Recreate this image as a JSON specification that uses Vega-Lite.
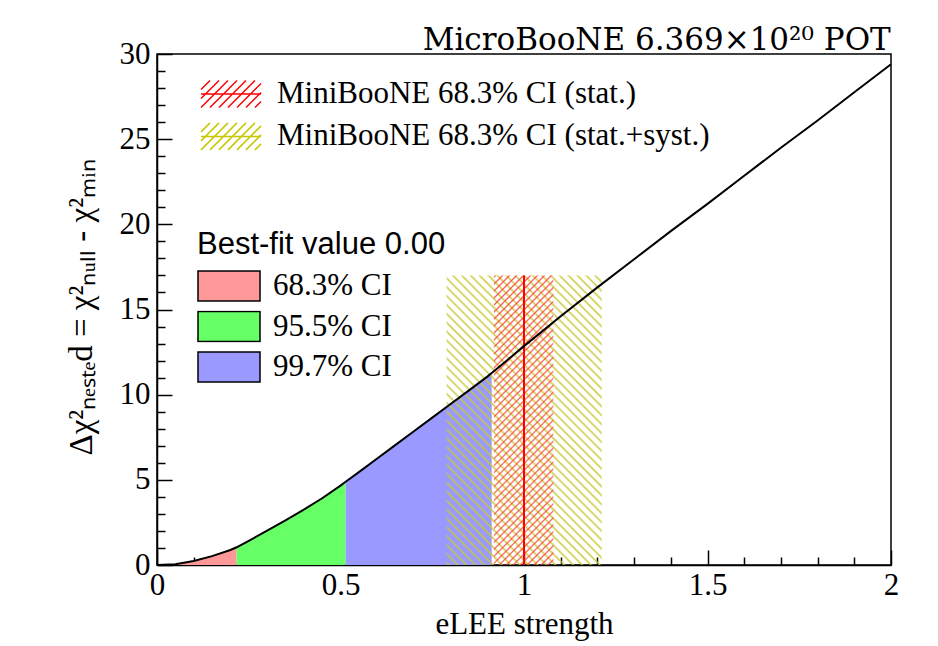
{
  "$schema": "https://vega.github.io/schema/vega-lite/v6.json",
  "width": 734,
  "height": 511,
  "autosize": {"type": "none"},
  "padding": {"left": 157, "top": 54, "right": 47, "bottom": 81},
  "background": "white",
  "config": {
    "view": {"stroke": "black", "strokeWidth": 1.5},
    "axis": {
      "grid": false,
      "zindex": 1,
      "labelOverlap": false,
      "labelBound": false,
      "domainColor": "black",
      "domainWidth": 1.5,
      "tickColor": "black",
      "tickWidth": 1.5,
      "labelFont": "Liberation Serif",
      "labelFontSize": 31,
      "labelColor": "black",
      "titleFont": "Liberation Serif",
      "titleFontSize": 31,
      "titleFontWeight": "normal",
      "titleColor": "black"
    }
  },
  "title": {
    "text": "MicroBooNE 6.369×10²⁰ POT",
    "anchor": "end",
    "orient": "top",
    "font": "DejaVu Serif",
    "fontSize": 31,
    "fontWeight": "normal",
    "color": "black",
    "offset": 7,
    "dx": -8,
    "dy": 50,
    "baseline": "alphabetic"
  },
  "resolve": {"axis": {"x": "independent", "y": "independent"}},
  "datasets": {
    "curve": [
      {"s": 0, "dchi2": 0}, {"s": 0.05, "dchi2": 0.05}, {"s": 0.1, "dchi2": 0.24}, {"s": 0.15, "dchi2": 0.52},
      {"s": 0.2, "dchi2": 0.88}, {"s": 0.217, "dchi2": 1.04}, {"s": 0.25, "dchi2": 1.42}, {"s": 0.3, "dchi2": 2.02},
      {"s": 0.35, "dchi2": 2.62}, {"s": 0.4, "dchi2": 3.25}, {"s": 0.45, "dchi2": 3.92}, {"s": 0.5, "dchi2": 4.66},
      {"s": 0.514, "dchi2": 4.89}, {"s": 0.55, "dchi2": 5.45}, {"s": 0.6, "dchi2": 6.25}, {"s": 0.65, "dchi2": 7.05},
      {"s": 0.7, "dchi2": 7.85}, {"s": 0.75, "dchi2": 8.65}, {"s": 0.8, "dchi2": 9.45}, {"s": 0.85, "dchi2": 10.25},
      {"s": 0.9, "dchi2": 11.06}, {"s": 0.912, "dchi2": 11.27}, {"s": 0.95, "dchi2": 11.95}, {"s": 1.0, "dchi2": 12.85},
      {"s": 1.1, "dchi2": 14.6}, {"s": 1.2, "dchi2": 16.3}, {"s": 1.3, "dchi2": 17.95}, {"s": 1.4, "dchi2": 19.6},
      {"s": 1.5, "dchi2": 21.2}, {"s": 1.6, "dchi2": 22.85}, {"s": 1.7, "dchi2": 24.5}, {"s": 1.8, "dchi2": 26.1},
      {"s": 1.9, "dchi2": 27.75}, {"s": 2.0, "dchi2": 29.4}
    ],
    "regions": [
      {"s": 0, "dchi2": 0, "ci": "68.3% CI"}, {"s": 0.05, "dchi2": 0.05, "ci": "68.3% CI"}, {"s": 0.1, "dchi2": 0.24, "ci": "68.3% CI"},
      {"s": 0.15, "dchi2": 0.52, "ci": "68.3% CI"}, {"s": 0.2, "dchi2": 0.88, "ci": "68.3% CI"}, {"s": 0.217, "dchi2": 1.04, "ci": "68.3% CI"},
      {"s": 0.217, "dchi2": 1.04, "ci": "95.5% CI"}, {"s": 0.25, "dchi2": 1.42, "ci": "95.5% CI"}, {"s": 0.3, "dchi2": 2.02, "ci": "95.5% CI"},
      {"s": 0.35, "dchi2": 2.62, "ci": "95.5% CI"}, {"s": 0.4, "dchi2": 3.25, "ci": "95.5% CI"}, {"s": 0.45, "dchi2": 3.92, "ci": "95.5% CI"},
      {"s": 0.5, "dchi2": 4.66, "ci": "95.5% CI"}, {"s": 0.514, "dchi2": 4.89, "ci": "95.5% CI"},
      {"s": 0.514, "dchi2": 4.89, "ci": "99.7% CI"}, {"s": 0.55, "dchi2": 5.45, "ci": "99.7% CI"}, {"s": 0.6, "dchi2": 6.25, "ci": "99.7% CI"},
      {"s": 0.65, "dchi2": 7.05, "ci": "99.7% CI"}, {"s": 0.7, "dchi2": 7.85, "ci": "99.7% CI"}, {"s": 0.75, "dchi2": 8.65, "ci": "99.7% CI"},
      {"s": 0.8, "dchi2": 9.45, "ci": "99.7% CI"}, {"s": 0.85, "dchi2": 10.25, "ci": "99.7% CI"}, {"s": 0.9, "dchi2": 11.06, "ci": "99.7% CI"},
      {"s": 0.912, "dchi2": 11.27, "ci": "99.7% CI"}
    ],
    "bands": [
      {"band": "stat.+syst.", "lo": 0.789, "hi": 1.212, "ymin": 0, "ymax": 17},
      {"band": "stat.", "lo": 0.918, "hi": 1.08, "ymin": 0, "ymax": 17}
    ],
    "central": [
      {"label": "MiniBooNE 68.3% CI (stat.)", "value": 1, "ymin": 0, "ymax": 17}
    ]
  },
  "layer": [
    {
      "data": {"name": "regions"},
      "mark": {"type": "area", "interpolate": "linear"},
      "encoding": {
        "x": {
          "field": "s", "type": "quantitative",
          "scale": {"domain": [0, 2], "nice": false, "zero": false},
          "axis": {
            "orient": "bottom",
            "title": "eLEE strength",
            "values": [0, 0.5, 1, 1.5, 2],
            "format": "~g",
            "tickSize": -15,
            "labelPadding": 20,
            "labelOverlap": false,
            "labelFlush": false,
            "titleY": 44,
            "titleBaseline": "top"
          }
        },
        "y": {
          "field": "dchi2", "type": "quantitative",
          "stack": null,
          "scale": {"domain": [0, 30], "nice": false},
          "axis": {
            "orient": "left",
            "title": "Δχ²ₙₑₛₜₑd = χ²ₙᵤₗₗ - χ²ₘᵢₙ",
            "titleFontSize": 33,
            "values": [0, 5, 10, 15, 20, 25, 30],
            "format": "d",
            "tickSize": -15,
            "labelPadding": 22,
            "labelOverlap": false,
            "labelFlush": false,
            "titleX": -76,
            "titleY": 253,
            "titleAngle": 270,
            "titleAlign": "center",
            "titleBaseline": "middle"
          }
        },
        "fill": {
          "field": "ci", "type": "nominal",
          "scale": {"domain": ["68.3% CI", "95.5% CI", "99.7% CI"], "range": ["#ff9999", "#66ff66", "#9999ff"]},
          "legend": {
            "title": "Best-fit value 0.00",
            "orient": "none",
            "legendX": 40,
            "legendY": 176,
            "padding": 0,
            "titleFont": "Liberation Sans",
            "titleFontSize": 31,
            "titleFontWeight": "normal",
            "titleColor": "black",
            "titlePadding": 9,
            "titleLimit": 600,
            "symbolType": "M-1,-0.48H1V0.48H-1Z",
            "symbolSize": 3844,
            "symbolStrokeColor": "black",
            "symbolStrokeWidth": 1.5,
            "symbolOpacity": 1,
            "labelFont": "Liberation Serif",
            "labelFontSize": 31,
            "labelColor": "black",
            "labelOffset": 12,
            "labelLimit": 400,
            "clipHeight": 32,
            "rowPadding": 8.5
          }
        }
      }
    },
    {
      "data": {"name": "bands"},
      "transform": [{"filter": "datum.band === 'stat.+syst.'"}],
      "mark": {
        "type": "rect",
        "fill": {
          "gradient": "linear", "x1": 0, "y1": 1, "x2": 0.64, "y2": -0.193,
          "stops": [
            {"offset": 0, "color": "rgba(200,200,50,0)"}, {"offset": 0.005, "color": "rgba(200,200,50,0.9)"}, {"offset": 0.01, "color": "rgba(200,200,50,0)"},
            {"offset": 0.02, "color": "rgba(200,200,50,0)"}, {"offset": 0.025, "color": "rgba(200,200,50,0.9)"}, {"offset": 0.03, "color": "rgba(200,200,50,0)"},
            {"offset": 0.04, "color": "rgba(200,200,50,0)"}, {"offset": 0.045, "color": "rgba(200,200,50,0.9)"}, {"offset": 0.05, "color": "rgba(200,200,50,0)"},
            {"offset": 0.06, "color": "rgba(200,200,50,0)"}, {"offset": 0.065, "color": "rgba(200,200,50,0.9)"}, {"offset": 0.07, "color": "rgba(200,200,50,0)"},
            {"offset": 0.08, "color": "rgba(200,200,50,0)"}, {"offset": 0.085, "color": "rgba(200,200,50,0.9)"}, {"offset": 0.09, "color": "rgba(200,200,50,0)"},
            {"offset": 0.1, "color": "rgba(200,200,50,0)"}, {"offset": 0.105, "color": "rgba(200,200,50,0.9)"}, {"offset": 0.11, "color": "rgba(200,200,50,0)"},
            {"offset": 0.12, "color": "rgba(200,200,50,0)"}, {"offset": 0.125, "color": "rgba(200,200,50,0.9)"}, {"offset": 0.13, "color": "rgba(200,200,50,0)"},
            {"offset": 0.14, "color": "rgba(200,200,50,0)"}, {"offset": 0.145, "color": "rgba(200,200,50,0.9)"}, {"offset": 0.15, "color": "rgba(200,200,50,0)"},
            {"offset": 0.16, "color": "rgba(200,200,50,0)"}, {"offset": 0.165, "color": "rgba(200,200,50,0.9)"}, {"offset": 0.17, "color": "rgba(200,200,50,0)"},
            {"offset": 0.18, "color": "rgba(200,200,50,0)"}, {"offset": 0.185, "color": "rgba(200,200,50,0.9)"}, {"offset": 0.19, "color": "rgba(200,200,50,0)"},
            {"offset": 0.2, "color": "rgba(200,200,50,0)"}, {"offset": 0.205, "color": "rgba(200,200,50,0.9)"}, {"offset": 0.21, "color": "rgba(200,200,50,0)"},
            {"offset": 0.22, "color": "rgba(200,200,50,0)"}, {"offset": 0.225, "color": "rgba(200,200,50,0.9)"}, {"offset": 0.23, "color": "rgba(200,200,50,0)"},
            {"offset": 0.24, "color": "rgba(200,200,50,0)"}, {"offset": 0.245, "color": "rgba(200,200,50,0.9)"}, {"offset": 0.25, "color": "rgba(200,200,50,0)"},
            {"offset": 0.26, "color": "rgba(200,200,50,0)"}, {"offset": 0.265, "color": "rgba(200,200,50,0.9)"}, {"offset": 0.27, "color": "rgba(200,200,50,0)"},
            {"offset": 0.28, "color": "rgba(200,200,50,0)"}, {"offset": 0.285, "color": "rgba(200,200,50,0.9)"}, {"offset": 0.29, "color": "rgba(200,200,50,0)"},
            {"offset": 0.3, "color": "rgba(200,200,50,0)"}, {"offset": 0.305, "color": "rgba(200,200,50,0.9)"}, {"offset": 0.31, "color": "rgba(200,200,50,0)"},
            {"offset": 0.32, "color": "rgba(200,200,50,0)"}, {"offset": 0.325, "color": "rgba(200,200,50,0.9)"}, {"offset": 0.33, "color": "rgba(200,200,50,0)"},
            {"offset": 0.34, "color": "rgba(200,200,50,0)"}, {"offset": 0.345, "color": "rgba(200,200,50,0.9)"}, {"offset": 0.35, "color": "rgba(200,200,50,0)"},
            {"offset": 0.36, "color": "rgba(200,200,50,0)"}, {"offset": 0.365, "color": "rgba(200,200,50,0.9)"}, {"offset": 0.37, "color": "rgba(200,200,50,0)"},
            {"offset": 0.38, "color": "rgba(200,200,50,0)"}, {"offset": 0.385, "color": "rgba(200,200,50,0.9)"}, {"offset": 0.39, "color": "rgba(200,200,50,0)"},
            {"offset": 0.4, "color": "rgba(200,200,50,0)"}, {"offset": 0.405, "color": "rgba(200,200,50,0.9)"}, {"offset": 0.41, "color": "rgba(200,200,50,0)"},
            {"offset": 0.42, "color": "rgba(200,200,50,0)"}, {"offset": 0.425, "color": "rgba(200,200,50,0.9)"}, {"offset": 0.43, "color": "rgba(200,200,50,0)"},
            {"offset": 0.44, "color": "rgba(200,200,50,0)"}, {"offset": 0.445, "color": "rgba(200,200,50,0.9)"}, {"offset": 0.45, "color": "rgba(200,200,50,0)"},
            {"offset": 0.46, "color": "rgba(200,200,50,0)"}, {"offset": 0.465, "color": "rgba(200,200,50,0.9)"}, {"offset": 0.47, "color": "rgba(200,200,50,0)"},
            {"offset": 0.48, "color": "rgba(200,200,50,0)"}, {"offset": 0.485, "color": "rgba(200,200,50,0.9)"}, {"offset": 0.49, "color": "rgba(200,200,50,0)"},
            {"offset": 0.5, "color": "rgba(200,200,50,0)"}, {"offset": 0.505, "color": "rgba(200,200,50,0.9)"}, {"offset": 0.51, "color": "rgba(200,200,50,0)"},
            {"offset": 0.52, "color": "rgba(200,200,50,0)"}, {"offset": 0.525, "color": "rgba(200,200,50,0.9)"}, {"offset": 0.53, "color": "rgba(200,200,50,0)"},
            {"offset": 0.54, "color": "rgba(200,200,50,0)"}, {"offset": 0.545, "color": "rgba(200,200,50,0.9)"}, {"offset": 0.55, "color": "rgba(200,200,50,0)"},
            {"offset": 0.56, "color": "rgba(200,200,50,0)"}, {"offset": 0.565, "color": "rgba(200,200,50,0.9)"}, {"offset": 0.57, "color": "rgba(200,200,50,0)"},
            {"offset": 0.58, "color": "rgba(200,200,50,0)"}, {"offset": 0.585, "color": "rgba(200,200,50,0.9)"}, {"offset": 0.59, "color": "rgba(200,200,50,0)"},
            {"offset": 0.6, "color": "rgba(200,200,50,0)"}, {"offset": 0.605, "color": "rgba(200,200,50,0.9)"}, {"offset": 0.61, "color": "rgba(200,200,50,0)"},
            {"offset": 0.62, "color": "rgba(200,200,50,0)"}, {"offset": 0.625, "color": "rgba(200,200,50,0.9)"}, {"offset": 0.63, "color": "rgba(200,200,50,0)"},
            {"offset": 0.64, "color": "rgba(200,200,50,0)"}, {"offset": 0.645, "color": "rgba(200,200,50,0.9)"}, {"offset": 0.65, "color": "rgba(200,200,50,0)"},
            {"offset": 0.66, "color": "rgba(200,200,50,0)"}, {"offset": 0.665, "color": "rgba(200,200,50,0.9)"}, {"offset": 0.67, "color": "rgba(200,200,50,0)"},
            {"offset": 0.68, "color": "rgba(200,200,50,0)"}, {"offset": 0.685, "color": "rgba(200,200,50,0.9)"}, {"offset": 0.69, "color": "rgba(200,200,50,0)"},
            {"offset": 0.7, "color": "rgba(200,200,50,0)"}, {"offset": 0.705, "color": "rgba(200,200,50,0.9)"}, {"offset": 0.71, "color": "rgba(200,200,50,0)"},
            {"offset": 0.72, "color": "rgba(200,200,50,0)"}, {"offset": 0.725, "color": "rgba(200,200,50,0.9)"}, {"offset": 0.73, "color": "rgba(200,200,50,0)"},
            {"offset": 0.74, "color": "rgba(200,200,50,0)"}, {"offset": 0.745, "color": "rgba(200,200,50,0.9)"}, {"offset": 0.75, "color": "rgba(200,200,50,0)"},
            {"offset": 0.76, "color": "rgba(200,200,50,0)"}, {"offset": 0.765, "color": "rgba(200,200,50,0.9)"}, {"offset": 0.77, "color": "rgba(200,200,50,0)"},
            {"offset": 0.78, "color": "rgba(200,200,50,0)"}, {"offset": 0.785, "color": "rgba(200,200,50,0.9)"}, {"offset": 0.79, "color": "rgba(200,200,50,0)"},
            {"offset": 0.8, "color": "rgba(200,200,50,0)"}, {"offset": 0.805, "color": "rgba(200,200,50,0.9)"}, {"offset": 0.81, "color": "rgba(200,200,50,0)"},
            {"offset": 0.82, "color": "rgba(200,200,50,0)"}, {"offset": 0.825, "color": "rgba(200,200,50,0.9)"}, {"offset": 0.83, "color": "rgba(200,200,50,0)"},
            {"offset": 0.84, "color": "rgba(200,200,50,0)"}, {"offset": 0.845, "color": "rgba(200,200,50,0.9)"}, {"offset": 0.85, "color": "rgba(200,200,50,0)"},
            {"offset": 0.86, "color": "rgba(200,200,50,0)"}, {"offset": 0.865, "color": "rgba(200,200,50,0.9)"}, {"offset": 0.87, "color": "rgba(200,200,50,0)"},
            {"offset": 0.88, "color": "rgba(200,200,50,0)"}, {"offset": 0.885, "color": "rgba(200,200,50,0.9)"}, {"offset": 0.89, "color": "rgba(200,200,50,0)"},
            {"offset": 0.9, "color": "rgba(200,200,50,0)"}, {"offset": 0.905, "color": "rgba(200,200,50,0.9)"}, {"offset": 0.91, "color": "rgba(200,200,50,0)"},
            {"offset": 0.92, "color": "rgba(200,200,50,0)"}, {"offset": 0.925, "color": "rgba(200,200,50,0.9)"}, {"offset": 0.93, "color": "rgba(200,200,50,0)"},
            {"offset": 0.94, "color": "rgba(200,200,50,0)"}, {"offset": 0.945, "color": "rgba(200,200,50,0.9)"}, {"offset": 0.95, "color": "rgba(200,200,50,0)"},
            {"offset": 0.96, "color": "rgba(200,200,50,0)"}, {"offset": 0.965, "color": "rgba(200,200,50,0.9)"}, {"offset": 0.97, "color": "rgba(200,200,50,0)"},
            {"offset": 0.98, "color": "rgba(200,200,50,0)"}, {"offset": 0.985, "color": "rgba(200,200,50,0.9)"}, {"offset": 0.99, "color": "rgba(200,200,50,0)"},
            {"offset": 1, "color": "rgba(200,200,50,0)"}
          ]
        }
      },
      "encoding": {
        "x": {
          "field": "lo", "type": "quantitative",
          "axis": {
            "orient": "bottom", "title": null, "labels": false, "domain": false,
            "values": [0.1, 0.2, 0.3, 0.4, 0.6, 0.7, 0.8, 0.9, 1.1, 1.2, 1.3, 1.4, 1.6, 1.7, 1.8, 1.9],
            "tickSize": -8
          }
        },
        "x2": {"field": "hi"},
        "y": {
          "field": "ymin", "type": "quantitative",
          "axis": {
            "orient": "left", "title": null, "labels": false, "domain": false,
            "values": [1, 2, 3, 4, 6, 7, 8, 9, 11, 12, 13, 14, 16, 17, 18, 19, 21, 22, 23, 24, 26, 27, 28, 29],
            "tickSize": -8
          }
        },
        "y2": {"field": "ymax"}
      }
    },
    {
      "data": {"name": "bands"},
      "transform": [{"filter": "datum.band === 'stat.'"}],
      "mark": {
        "type": "rect",
        "fill": {
          "gradient": "linear", "x1": 0, "y1": 0, "x2": 0.2377, "y2": 1.1566,
          "stops": [
            {"offset": 0, "color": "rgba(255,60,60,0)"}, {"offset": 0.005, "color": "rgba(255,60,60,0.85)"}, {"offset": 0.01, "color": "rgba(255,60,60,0)"},
            {"offset": 0.02, "color": "rgba(255,60,60,0)"}, {"offset": 0.025, "color": "rgba(255,60,60,0.85)"}, {"offset": 0.03, "color": "rgba(255,60,60,0)"},
            {"offset": 0.04, "color": "rgba(255,60,60,0)"}, {"offset": 0.045, "color": "rgba(255,60,60,0.85)"}, {"offset": 0.05, "color": "rgba(255,60,60,0)"},
            {"offset": 0.06, "color": "rgba(255,60,60,0)"}, {"offset": 0.065, "color": "rgba(255,60,60,0.85)"}, {"offset": 0.07, "color": "rgba(255,60,60,0)"},
            {"offset": 0.08, "color": "rgba(255,60,60,0)"}, {"offset": 0.085, "color": "rgba(255,60,60,0.85)"}, {"offset": 0.09, "color": "rgba(255,60,60,0)"},
            {"offset": 0.1, "color": "rgba(255,60,60,0)"}, {"offset": 0.105, "color": "rgba(255,60,60,0.85)"}, {"offset": 0.11, "color": "rgba(255,60,60,0)"},
            {"offset": 0.12, "color": "rgba(255,60,60,0)"}, {"offset": 0.125, "color": "rgba(255,60,60,0.85)"}, {"offset": 0.13, "color": "rgba(255,60,60,0)"},
            {"offset": 0.14, "color": "rgba(255,60,60,0)"}, {"offset": 0.145, "color": "rgba(255,60,60,0.85)"}, {"offset": 0.15, "color": "rgba(255,60,60,0)"},
            {"offset": 0.16, "color": "rgba(255,60,60,0)"}, {"offset": 0.165, "color": "rgba(255,60,60,0.85)"}, {"offset": 0.17, "color": "rgba(255,60,60,0)"},
            {"offset": 0.18, "color": "rgba(255,60,60,0)"}, {"offset": 0.185, "color": "rgba(255,60,60,0.85)"}, {"offset": 0.19, "color": "rgba(255,60,60,0)"},
            {"offset": 0.2, "color": "rgba(255,60,60,0)"}, {"offset": 0.205, "color": "rgba(255,60,60,0.85)"}, {"offset": 0.21, "color": "rgba(255,60,60,0)"},
            {"offset": 0.22, "color": "rgba(255,60,60,0)"}, {"offset": 0.225, "color": "rgba(255,60,60,0.85)"}, {"offset": 0.23, "color": "rgba(255,60,60,0)"},
            {"offset": 0.24, "color": "rgba(255,60,60,0)"}, {"offset": 0.245, "color": "rgba(255,60,60,0.85)"}, {"offset": 0.25, "color": "rgba(255,60,60,0)"},
            {"offset": 0.26, "color": "rgba(255,60,60,0)"}, {"offset": 0.265, "color": "rgba(255,60,60,0.85)"}, {"offset": 0.27, "color": "rgba(255,60,60,0)"},
            {"offset": 0.28, "color": "rgba(255,60,60,0)"}, {"offset": 0.285, "color": "rgba(255,60,60,0.85)"}, {"offset": 0.29, "color": "rgba(255,60,60,0)"},
            {"offset": 0.3, "color": "rgba(255,60,60,0)"}, {"offset": 0.305, "color": "rgba(255,60,60,0.85)"}, {"offset": 0.31, "color": "rgba(255,60,60,0)"},
            {"offset": 0.32, "color": "rgba(255,60,60,0)"}, {"offset": 0.325, "color": "rgba(255,60,60,0.85)"}, {"offset": 0.33, "color": "rgba(255,60,60,0)"},
            {"offset": 0.34, "color": "rgba(255,60,60,0)"}, {"offset": 0.345, "color": "rgba(255,60,60,0.85)"}, {"offset": 0.35, "color": "rgba(255,60,60,0)"},
            {"offset": 0.36, "color": "rgba(255,60,60,0)"}, {"offset": 0.365, "color": "rgba(255,60,60,0.85)"}, {"offset": 0.37, "color": "rgba(255,60,60,0)"},
            {"offset": 0.38, "color": "rgba(255,60,60,0)"}, {"offset": 0.385, "color": "rgba(255,60,60,0.85)"}, {"offset": 0.39, "color": "rgba(255,60,60,0)"},
            {"offset": 0.4, "color": "rgba(255,60,60,0)"}, {"offset": 0.405, "color": "rgba(255,60,60,0.85)"}, {"offset": 0.41, "color": "rgba(255,60,60,0)"},
            {"offset": 0.42, "color": "rgba(255,60,60,0)"}, {"offset": 0.425, "color": "rgba(255,60,60,0.85)"}, {"offset": 0.43, "color": "rgba(255,60,60,0)"},
            {"offset": 0.44, "color": "rgba(255,60,60,0)"}, {"offset": 0.445, "color": "rgba(255,60,60,0.85)"}, {"offset": 0.45, "color": "rgba(255,60,60,0)"},
            {"offset": 0.46, "color": "rgba(255,60,60,0)"}, {"offset": 0.465, "color": "rgba(255,60,60,0.85)"}, {"offset": 0.47, "color": "rgba(255,60,60,0)"},
            {"offset": 0.48, "color": "rgba(255,60,60,0)"}, {"offset": 0.485, "color": "rgba(255,60,60,0.85)"}, {"offset": 0.49, "color": "rgba(255,60,60,0)"},
            {"offset": 0.5, "color": "rgba(255,60,60,0)"}, {"offset": 0.505, "color": "rgba(255,60,60,0.85)"}, {"offset": 0.51, "color": "rgba(255,60,60,0)"},
            {"offset": 0.52, "color": "rgba(255,60,60,0)"}, {"offset": 0.525, "color": "rgba(255,60,60,0.85)"}, {"offset": 0.53, "color": "rgba(255,60,60,0)"},
            {"offset": 0.54, "color": "rgba(255,60,60,0)"}, {"offset": 0.545, "color": "rgba(255,60,60,0.85)"}, {"offset": 0.55, "color": "rgba(255,60,60,0)"},
            {"offset": 0.56, "color": "rgba(255,60,60,0)"}, {"offset": 0.565, "color": "rgba(255,60,60,0.85)"}, {"offset": 0.57, "color": "rgba(255,60,60,0)"},
            {"offset": 0.58, "color": "rgba(255,60,60,0)"}, {"offset": 0.585, "color": "rgba(255,60,60,0.85)"}, {"offset": 0.59, "color": "rgba(255,60,60,0)"},
            {"offset": 0.6, "color": "rgba(255,60,60,0)"}, {"offset": 0.605, "color": "rgba(255,60,60,0.85)"}, {"offset": 0.61, "color": "rgba(255,60,60,0)"},
            {"offset": 0.62, "color": "rgba(255,60,60,0)"}, {"offset": 0.625, "color": "rgba(255,60,60,0.85)"}, {"offset": 0.63, "color": "rgba(255,60,60,0)"},
            {"offset": 0.64, "color": "rgba(255,60,60,0)"}, {"offset": 0.645, "color": "rgba(255,60,60,0.85)"}, {"offset": 0.65, "color": "rgba(255,60,60,0)"},
            {"offset": 0.66, "color": "rgba(255,60,60,0)"}, {"offset": 0.665, "color": "rgba(255,60,60,0.85)"}, {"offset": 0.67, "color": "rgba(255,60,60,0)"},
            {"offset": 0.68, "color": "rgba(255,60,60,0)"}, {"offset": 0.685, "color": "rgba(255,60,60,0.85)"}, {"offset": 0.69, "color": "rgba(255,60,60,0)"},
            {"offset": 0.7, "color": "rgba(255,60,60,0)"}, {"offset": 0.705, "color": "rgba(255,60,60,0.85)"}, {"offset": 0.71, "color": "rgba(255,60,60,0)"},
            {"offset": 0.72, "color": "rgba(255,60,60,0)"}, {"offset": 0.725, "color": "rgba(255,60,60,0.85)"}, {"offset": 0.73, "color": "rgba(255,60,60,0)"},
            {"offset": 0.74, "color": "rgba(255,60,60,0)"}, {"offset": 0.745, "color": "rgba(255,60,60,0.85)"}, {"offset": 0.75, "color": "rgba(255,60,60,0)"},
            {"offset": 0.76, "color": "rgba(255,60,60,0)"}, {"offset": 0.765, "color": "rgba(255,60,60,0.85)"}, {"offset": 0.77, "color": "rgba(255,60,60,0)"},
            {"offset": 0.78, "color": "rgba(255,60,60,0)"}, {"offset": 0.785, "color": "rgba(255,60,60,0.85)"}, {"offset": 0.79, "color": "rgba(255,60,60,0)"},
            {"offset": 0.8, "color": "rgba(255,60,60,0)"}, {"offset": 0.805, "color": "rgba(255,60,60,0.85)"}, {"offset": 0.81, "color": "rgba(255,60,60,0)"},
            {"offset": 0.82, "color": "rgba(255,60,60,0)"}, {"offset": 0.825, "color": "rgba(255,60,60,0.85)"}, {"offset": 0.83, "color": "rgba(255,60,60,0)"},
            {"offset": 0.84, "color": "rgba(255,60,60,0)"}, {"offset": 0.845, "color": "rgba(255,60,60,0.85)"}, {"offset": 0.85, "color": "rgba(255,60,60,0)"},
            {"offset": 0.86, "color": "rgba(255,60,60,0)"}, {"offset": 0.865, "color": "rgba(255,60,60,0.85)"}, {"offset": 0.87, "color": "rgba(255,60,60,0)"},
            {"offset": 0.88, "color": "rgba(255,60,60,0)"}, {"offset": 0.885, "color": "rgba(255,60,60,0.85)"}, {"offset": 0.89, "color": "rgba(255,60,60,0)"},
            {"offset": 0.9, "color": "rgba(255,60,60,0)"}, {"offset": 0.905, "color": "rgba(255,60,60,0.85)"}, {"offset": 0.91, "color": "rgba(255,60,60,0)"},
            {"offset": 0.92, "color": "rgba(255,60,60,0)"}, {"offset": 0.925, "color": "rgba(255,60,60,0.85)"}, {"offset": 0.93, "color": "rgba(255,60,60,0)"},
            {"offset": 0.94, "color": "rgba(255,60,60,0)"}, {"offset": 0.945, "color": "rgba(255,60,60,0.85)"}, {"offset": 0.95, "color": "rgba(255,60,60,0)"},
            {"offset": 0.96, "color": "rgba(255,60,60,0)"}, {"offset": 0.965, "color": "rgba(255,60,60,0.85)"}, {"offset": 0.97, "color": "rgba(255,60,60,0)"},
            {"offset": 0.98, "color": "rgba(255,60,60,0)"}, {"offset": 0.985, "color": "rgba(255,60,60,0.85)"}, {"offset": 0.99, "color": "rgba(255,60,60,0)"},
            {"offset": 1, "color": "rgba(255,60,60,0)"}
          ]
        }
      },
      "encoding": {
        "x": {"field": "lo", "type": "quantitative", "axis": null},
        "x2": {"field": "hi"},
        "y": {"field": "ymin", "type": "quantitative", "axis": null},
        "y2": {"field": "ymax"}
      }
    },
    {
      "data": {"name": "central"},
      "mark": {"type": "rule"},
      "encoding": {
        "x": {"field": "value", "type": "quantitative", "axis": null},
        "y": {"field": "ymin", "type": "quantitative", "axis": null},
        "y2": {"field": "ymax"},
        "strokeWidth": {"value": 2},
        "stroke": {
          "field": "label", "type": "nominal",
          "scale": {"domain": ["MiniBooNE 68.3% CI (stat.)", "MiniBooNE 68.3% CI (stat.+syst.)"], "range": ["#ff0000", "#c8c800"]},
          "legend": {
            "title": null,
            "orient": "none",
            "legendX": 43,
            "legendY": 25,
            "padding": 0,
            "symbolType": "M-1,0H1M-1,-0.15L-0.7,-0.45M-1,0.15L-0.4,-0.45M-1,0.45L-0.1,-0.45M-0.7,0.45L0.2,-0.45M-0.4,0.45L0.5,-0.45M-0.1,0.45L0.8,-0.45M0.2,0.45L1,-0.35M0.5,0.45L1,-0.05M0.8,0.45L1,0.25",
            "symbolSize": 3600,
            "symbolStrokeWidth": 1.5,
            "symbolFillColor": "transparent",
            "labelFont": "Liberation Serif",
            "labelFontSize": 31,
            "labelColor": "black",
            "labelOffset": 15,
            "labelLimit": 500,
            "clipHeight": 30,
            "rowPadding": 11.4
          }
        }
      }
    },
    {
      "data": {"name": "curve"},
      "mark": {"type": "line", "color": "black", "strokeWidth": 2},
      "encoding": {
        "x": {"field": "s", "type": "quantitative", "axis": null},
        "y": {"field": "dchi2", "type": "quantitative", "axis": null}
      }
    }
  ]
}
